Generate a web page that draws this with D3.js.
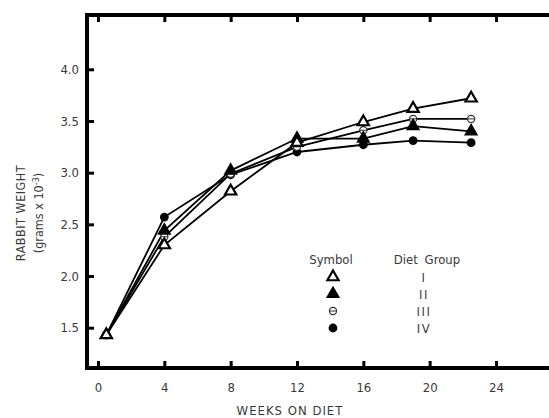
<!DOCTYPE html>
<html><head><meta charset="utf-8">
<script src="https://cdn.jsdelivr.net/npm/d3@7"></script>
<style>
html,body{margin:0;padding:0;background:#fff;}
svg text{font-family:"Liberation Sans Narrow","DejaVu Sans Condensed","Roboto Condensed",sans-serif;fill:#3a3a3a;}
</style></head>
<body><svg id="c" width="549" height="418"></svg>
<script>
const weeks = [0.5, 4, 8, 12, 16, 19, 22.5];
const groupI   = [1.43, 2.30, 2.82, 3.29, 3.49, 3.62, 3.72];
const groupII  = [1.43, 2.44, 3.02, 3.33, 3.33, 3.45, 3.40];
const groupIII = [1.43, 2.38, 2.99, 3.25, 3.41, 3.52, 3.52];
const groupIV  = [1.43, 2.57, 2.98, 3.20, 3.27, 3.31, 3.29];
const groupNames = ["I", "II", "III", "IV"];
const xTicks = [0, 4, 8, 12, 16, 20, 24];
const yTicks = [1.5, 2.0, 2.5, 3.0, 3.5, 4.0];

const svg = d3.select("#c");
const x = d3.scaleLinear().domain([0, 24]).range([98, 496]);
const y = d3.scaleLinear().domain([1.5, 4.0]).range([327.7, 69.3]);
const fLeft = 87, fRight = 549, fTop = 15, fBottom = 368;

// frame
svg.append("path")
  .attr("d", `M${fRight},${fTop}H${fLeft}V${fBottom}H${fRight}`)
  .attr("fill", "none").attr("stroke", "#000").attr("stroke-width", 4);

// axes
const gx = svg.append("g").attr("transform", `translate(0,${fBottom})`)
  .call(d3.axisBottom(x).tickValues(xTicks).tickSizeInner(-7).tickSizeOuter(0).tickPadding(14.5).tickFormat(d3.format("d")));
const gt = svg.append("g").attr("transform", `translate(0,${fTop})`)
  .call(d3.axisTop(x).tickValues(xTicks).tickSizeInner(-7).tickSizeOuter(0).tickFormat(""));
const gy = svg.append("g").attr("transform", `translate(${fLeft},0)`)
  .call(d3.axisLeft(y).tickValues(yTicks).tickSizeInner(-7).tickSizeOuter(0).tickPadding(8).tickFormat(d3.format(".1f")));
[gx, gt, gy].forEach(g => {
  g.select(".domain").remove();
  g.selectAll(".tick line").attr("stroke", "#000").attr("stroke-width", 3);
  g.selectAll(".tick text").attr("font-size", 13).attr("fill", "#3a3a3a")
    .style("font-family", '"Liberation Sans Narrow","DejaVu Sans Condensed",sans-serif');
});

// axis titles
svg.append("text").attr("x", 290).attr("y", 415).attr("text-anchor", "middle")
  .attr("font-size", 13).attr("letter-spacing", 1).text("WEEKS ON DIET");
svg.append("text").attr("transform", "translate(25,213) rotate(-90)").attr("text-anchor", "middle")
  .attr("font-size", 12.5).attr("letter-spacing", 0.5).text("RABBIT WEIGHT");
const t2 = svg.append("text").attr("transform", "translate(43,213) rotate(-90)").attr("text-anchor", "middle")
  .attr("font-size", 12.5);
t2.append("tspan").text("(grams x 10");
t2.append("tspan").attr("dy", -4).attr("font-size", 9).text("-3");
t2.append("tspan").attr("dy", 4).text(")");

// series
const series = [groupI, groupII, groupIII, groupIV];
const line = d3.line().x((d, i) => x(weeks[i])).y(d => y(d));
series.forEach(s => {
  svg.append("path").datum(s).attr("d", line)
    .attr("fill", "none").attr("stroke", "#000").attr("stroke-width", 1.8);
});

function marker(g, k, cx, cy) {
  if (k === 0) {
    g.append("path").attr("d", d3.symbol().type(d3.symbolTriangle).size(55)())
      .attr("transform", `translate(${cx},${cy})`)
      .attr("fill", "#fff").attr("stroke", "#000").attr("stroke-width", 2.2);
  } else if (k === 1) {
    g.append("path").attr("d", d3.symbol().type(d3.symbolTriangle).size(88)())
      .attr("transform", `translate(${cx},${cy})`).attr("fill", "#000");
  } else if (k === 2) {
    g.append("circle").attr("cx", cx).attr("cy", cy).attr("r", 3.6)
      .attr("fill", "#fff").attr("stroke", "#333").attr("stroke-width", 1.2);
    g.append("line").attr("x1", cx - 3.6).attr("x2", cx + 3.6).attr("y1", cy).attr("y2", cy)
      .attr("stroke", "#333").attr("stroke-width", 1);
  } else {
    g.append("circle").attr("cx", cx).attr("cy", cy).attr("r", 4.4).attr("fill", "#000");
  }
}
const mg = svg.append("g");
[3, 2, 1, 0].forEach(k => {
  series[k].forEach((v, i) => marker(mg, k, x(weeks[i]), y(v)));
});

// legend
svg.append("text").attr("x", 331).attr("y", 264).attr("text-anchor", "middle")
  .attr("font-size", 13).text("Symbol");
svg.append("text").attr("x", 427).attr("y", 264).attr("text-anchor", "middle")
  .attr("font-size", 13).attr("word-spacing", 3).text("Diet Group");
const rows = [277, 294, 311, 328];
groupNames.forEach((n, k) => {
  marker(svg, k, 333, rows[k]);
  svg.append("text").attr("x", 424).attr("y", rows[k] + 5).attr("text-anchor", "middle")
    .attr("font-size", 13).attr("letter-spacing", 1.5).text(n);
});
</script></body></html>
